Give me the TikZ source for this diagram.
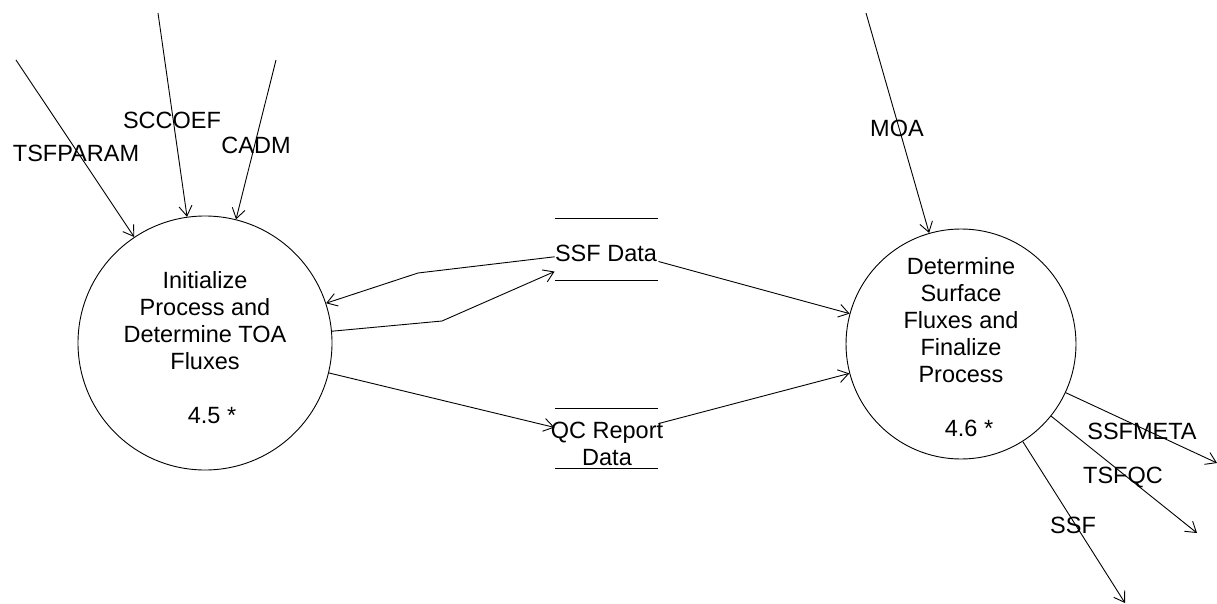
\documentclass[tikz,border=0pt]{standalone}
\usepackage{fontspec}
\setmainfont{Liberation Sans}
\usetikzlibrary{arrows.meta}
\begin{document}
\begin{tikzpicture}[x=1pt,y=-1pt,
  line width=0.9pt,
  flow/.style={draw, -{Straight Barb[length=10pt,width=13pt]}},
  proc/.style={circle, draw, inner sep=0pt},
  store/.style={rectangle, inner sep=0pt, minimum width=103pt},
  lbl/.style={font=\fontsize{23.5pt}{27pt}\selectfont, inner sep=0pt},
  ptext/.style={lbl, align=center}]
\useasboundingbox (0,0) rectangle (1217,604);

% processes
\node[proc, minimum size=254pt] (L) at (205,343) {};
\node[proc, minimum size=230pt] (R) at (961,344) {};
\node[ptext] (Lt) at (205,348) {Initialize\\Process and\\Determine TOA\\Fluxes\\[27pt]\hspace*{14pt}4.5 *};
\node[ptext] (Rt) at (961,347) {Determine\\Surface\\Fluxes and\\Finalize\\Process\\[27pt]\hspace*{16pt}4.6 *};

% data stores
\node[store, minimum height=61pt] (ssf) at (606.5,249.5) {};
\node[store, minimum height=59pt] (qc) at (606.5,438.5) {};
\draw (ssf.north west) -- (ssf.north east) (ssf.south west) -- (ssf.south east);
\draw (qc.north west) -- (qc.north east) (qc.south west) -- (qc.south east);
\node[ptext] (ssft) at (606,253) {SSF Data};
\node[ptext] (qct) at (607,443.5) {QC Report\\Data};

% external ends
\coordinate (tsfparam) at (16,60);
\coordinate (sccoef) at (158,13);
\coordinate (cadm) at (276,60);
\coordinate (moa) at (866,13);
\coordinate (ssfmeta) at (1217,463);
\coordinate (tsfqc) at (1197,533);
\coordinate (ssfout) at (1125,603);
\coordinate (b1) at (442,321);
\coordinate (b2) at (418,273);

% inputs
\draw[flow] (tsfparam) -- (L);
\draw[flow] (sccoef) -- (L);
\draw[flow] (cadm) -- (L);
\draw[flow] (moa) -- (R);
\node[lbl] (tsfparamL) at (76,153) {TSFPARAM};
\node[lbl] (sccoefL) at (172,120) {SCCOEF};
\node[lbl] (cadmL) at (256,145) {CADM};
\node[lbl] (moaL) at (897,128) {MOA};

% flows between processes and stores
\draw[flow] (L) -- (b1) -- (ssf.203.6);
\draw[flow] (ssf.188.3) -- (b2) -- (L);
\draw[flow] (L) -- (qc.168.5);
\draw[flow] (ssf.-13.6) -- (R);
\draw[flow] (qc.16.8) -- (R);

% outputs
\draw[flow] (R) -- (ssfmeta);
\draw[flow] (R) -- (tsfqc);
\draw[flow] (R) -- (ssfout);
\node[lbl] (ssfmetaL) at (1142,431) {SSFMETA};
\node[lbl] (tsfqcL) at (1123,478) {TSFQC};
\node[lbl] (ssfL) at (1073,525) {SSF};
\end{tikzpicture}
\end{document}
